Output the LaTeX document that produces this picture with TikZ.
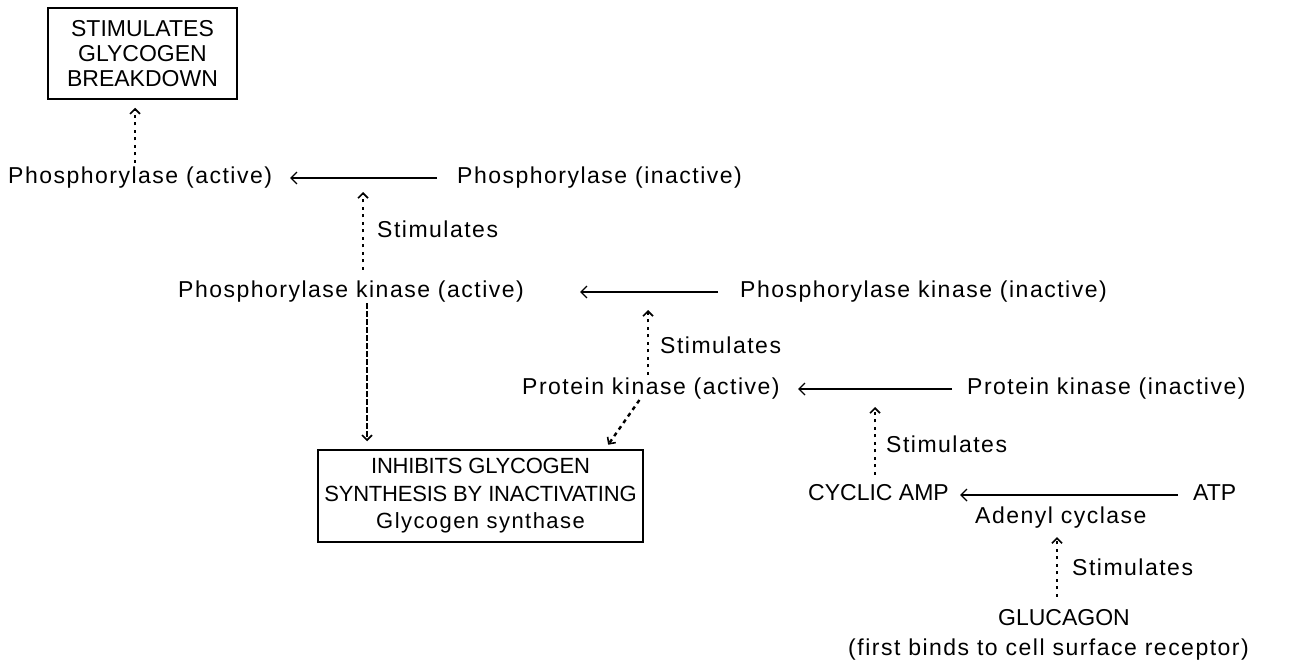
\documentclass[tikz,border=0pt]{standalone}
\usepackage{fontspec}
\setmainfont{Liberation Sans}
\newfontfamily\lcfont{Liberation Sans}[LetterSpace=6.5]
\newfontfamily\ucfont{Liberation Sans}[LetterSpace=0]
\newfontfamily\bxfont{Liberation Sans}[LetterSpace=-1]
\usetikzlibrary{arrows.meta}
\begin{document}
\begin{tikzpicture}[x=1pt,y=-1pt,
  lbl/.style={inner sep=0pt, anchor=west, text height=15pt, text depth=5pt,
    font=\fontsize{23}{27}\selectfont\lcfont},
  caplbl/.style={lbl, font=\fontsize{23}{27}\selectfont\ucfont},
  boxnode/.style={draw, line width=1.5pt, inner sep=0pt, align=center},
  rxn/.style={line width=1.4pt, -{Straight Barb[length=6pt,width=12pt,line width=1.4pt]}},
  dotarrow/.style={line width=2.4pt, dash pattern=on 3pt off 4.5pt,
    -{Straight Barb[length=5pt,width=10pt,line width=1.6pt]}},
  dasharrow/.style={line width=2.4pt, dash pattern=on 6pt off 2pt,
    -{Straight Barb[length=5pt,width=10pt,line width=1.6pt]}}]
\fill[white] (0,0) rectangle (1304,661);
\useasboundingbox (0,0) rectangle (1304,661);

% boxes
\node[boxnode, minimum width=189pt, minimum height=91pt,
  font=\fontsize{23}{25}\selectfont\ucfont] (box1) at (142.5,53.5)
  {STIMULATES\\GLYCOGEN\\BREAKDOWN};
\node[boxnode, minimum width=325pt, minimum height=92pt,
  font=\fontsize{22}{27.5}\selectfont\bxfont] (box2) at (480.5,496)
  {INHIBITS GLYCOGEN\\SYNTHESIS BY INACTIVATING\\{\lcfont Glycogen synthase}};

% labels
\node[lbl] (pact) at (8,178) {Phosphorylase (active)};
\node[lbl] (pinact) at (457,178) {Phosphorylase (inactive)};
\node[lbl] (stim1) at (377,232) {Stimulates};
\node[lbl] (pkact) at (178,292) {Phosphorylase kinase (active)};
\node[lbl] (pkinact) at (740,292) {Phosphorylase kinase (inactive)};
\node[lbl] (stim2) at (660,348) {Stimulates};
\node[lbl] (prkact) at (522,389) {Protein kinase (active)};
\node[lbl] (prkinact) at (967,389) {Protein kinase (inactive)};
\node[lbl] (stim3) at (886,447) {Stimulates};
\node[caplbl] (camp) at (808,495) {CYCLIC AMP};
\node[caplbl] (atp) at (1193,495) {ATP};
\node[lbl] (adenyl) at (975,518) {Adenyl cyclase};
\node[lbl] (stim4) at (1072,570) {Stimulates};
\node[caplbl] (glucagon) at (998,620) {GLUCAGON};
\node[lbl] (first) at (848,650) {(first binds to cell surface receptor)};

% helper coordinates
\coordinate (x1) at (135,0);
\coordinate (c1) at (363,192);
\coordinate (x2) at (367,0);
\coordinate (c2) at (648,310);
\coordinate (x3) at (640,0);
\coordinate (x4) at (605,0);
\coordinate (c3) at (875,407);
\coordinate (x5) at (1057,0);

% reactions
\draw[rxn, shorten <=20pt, shorten >=282pt] (pinact.west) -- (pact.west);
\draw[rxn, shorten <=22pt, shorten >=402pt] (pkinact.west) -- (pkact.west);
\draw[rxn, shorten <=15pt, shorten >=276pt] (prkinact.west) -- (prkact.west);
\draw[rxn, shorten <=15pt, shorten >=152pt] (atp.west) -- (camp.west);

% stimulation / effect arrows
\draw[dotarrow, shorten <=5pt, shorten >=8pt] (pact.north -| x1) -- (box1.south -| x1);
\draw[dotarrow, shorten <=12pt] (pkact.north -| c1) -- (c1);
\draw[dasharrow, shorten <=1pt, shorten >=8pt] (pkact.south -| x2) -- (box2.north -| x2);
\draw[dotarrow, shorten <=4pt] (prkact.north -| c2) -- (c2);
\draw[dotarrow, dash pattern=on 4pt off 4pt, shorten <=1pt, shorten >=5.5pt] (prkact.south -| x3) -- (box2.north -| x4);
\draw[dotarrow, shorten <=10pt] (camp.north -| c3) -- (c3);
\draw[dotarrow, shorten <=13pt, shorten >=9pt] (glucagon.north -| x5) -- (adenyl.south -| x5);
\end{tikzpicture}
\end{document}
